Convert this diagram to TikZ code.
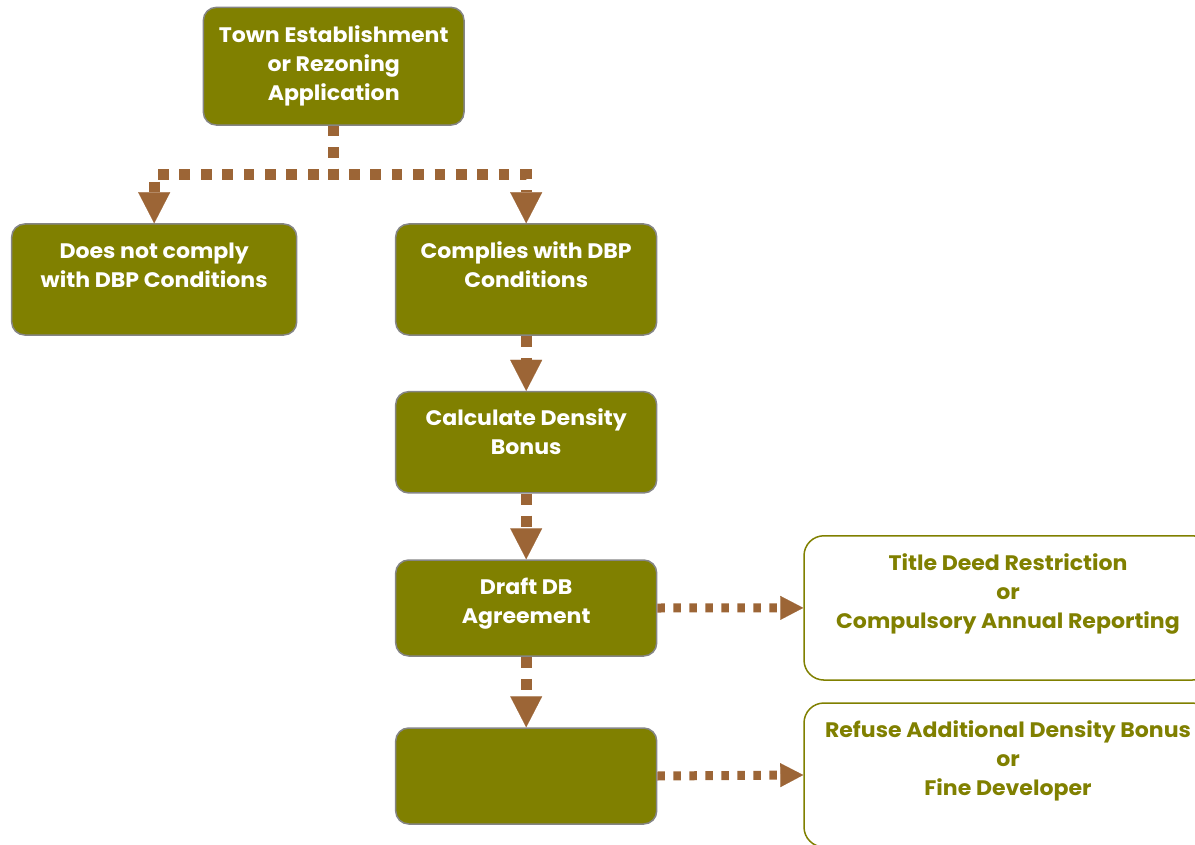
\documentclass[tikz,border=0pt]{standalone}
\usepackage{fontspec}
\setmainfont{Poppins}[FakeStretch=1.05]
\usetikzlibrary{arrows.meta}
\definecolor{olivefill}{HTML}{808000}
\definecolor{boxgray}{HTML}{858585}
\definecolor{connbrown}{HTML}{9C6536}
\tikzset{
  gbox/.style={draw=boxgray, line width=1.5pt, fill=olivefill, rounded corners=13pt, inner sep=0pt},
  wbox/.style={draw=olivefill, line width=1.5pt, fill=white, rounded corners=20pt, inner sep=0pt},
  lbl/.style={anchor=base, inner sep=0pt, text=white, font=\fontsize{21}{29}\selectfont\bfseries},
  olbl/.style={lbl, text=olivefill},
  mainconn/.style={draw=connbrown, line width=10.7pt, dash pattern=on 10.7pt off 10.7pt,
    -{Triangle[length=31pt,width=32pt,line width=0.1pt]}},
  vconn/.style={draw=connbrown, line width=11pt, dash pattern=on 11pt off 11pt,
    -{Triangle[length=31pt,width=32pt,line width=0.1pt]}},
  hconn/.style={draw=connbrown, line width=9pt, dash pattern=on 7.5pt off 8.5pt,
    -{Triangle[length=23pt,width=24pt,line width=0.1pt]}},
}
\begin{document}
\begin{tikzpicture}
\useasboundingbox (0,0) rectangle (1195pt,-845pt);
\clip (0,0) rectangle (1195pt,-845pt);

% boxes
\node[gbox, minimum width=260.7pt, minimum height=117.7pt] (top) at (333.7pt,-66.2pt) {};
\node[gbox, minimum width=285pt, minimum height=111pt] (nc) at (154.2pt,-279.5pt) {};
\node[gbox, minimum width=261pt, minimum height=111pt] (comply) at (526.2pt,-279.5pt) {};
\node[gbox, minimum width=261pt, minimum height=101.3pt] (calc) at (526.2pt,-442.3pt) {};
\node[gbox, minimum width=261pt, minimum height=96pt] (draft) at (526.2pt,-608pt) {};
\node[gbox, minimum width=261pt, minimum height=96pt] (empty) at (526.2pt,-776pt) {};
\node[wbox, minimum width=408pt, minimum height=144.3pt] (r1) at (1008pt,-607.9pt) {};
\node[wbox, minimum width=408pt, minimum height=144pt] (r2) at (1008pt,-775pt) {};

% texts
\node[lbl] (topt) at ([yshift=-36pt]top.north) {\parbox[t]{420pt}{\centering Town Establishment\\or Rezoning\\Application}};
\node[lbl] (nct) at ([yshift=-35pt]nc.north) {\parbox[t]{420pt}{\centering Does not comply\\with DBP Conditions}};
\node[lbl] (complyt) at ([yshift=-35pt]comply.north) {\parbox[t]{420pt}{\centering Complies with DBP\\Conditions}};
\node[lbl] (calct) at ([yshift=-35pt]calc.north) {\parbox[t]{420pt}{\centering Calculate Density\\Bonus}};
\node[lbl] (draftt) at ([yshift=-35pt]draft.north) {\parbox[t]{420pt}{\centering Draft DB\\Agreement}};
\node[olbl] (r1t) at ([yshift=-35pt]r1.north) {\parbox[t]{420pt}{\centering Title Deed Restriction\\or\\Compulsory Annual Reporting}};
\node[olbl] (r2t) at ([yshift=-35pt]r2.north) {\parbox[t]{420pt}{\centering Refuse Additional Density Bonus\\or\\Fine Developer}};

% connectors
\draw[mainconn] (top.south) -- ++(0,-49pt) -| (nc.north);
\draw[mainconn] (top.south) -- ++(0,-49pt) -| (comply.north);
\draw[vconn] (comply.south) -- (calc.north);
\draw[vconn] (calc.south) -- (draft.north);
\draw[vconn] (draft.south) -- (empty.north);
\draw[hconn] (draft.east) -- (r1.west);
\draw[hconn] (empty.east) -- (r2.west);
\end{tikzpicture}
\end{document}
